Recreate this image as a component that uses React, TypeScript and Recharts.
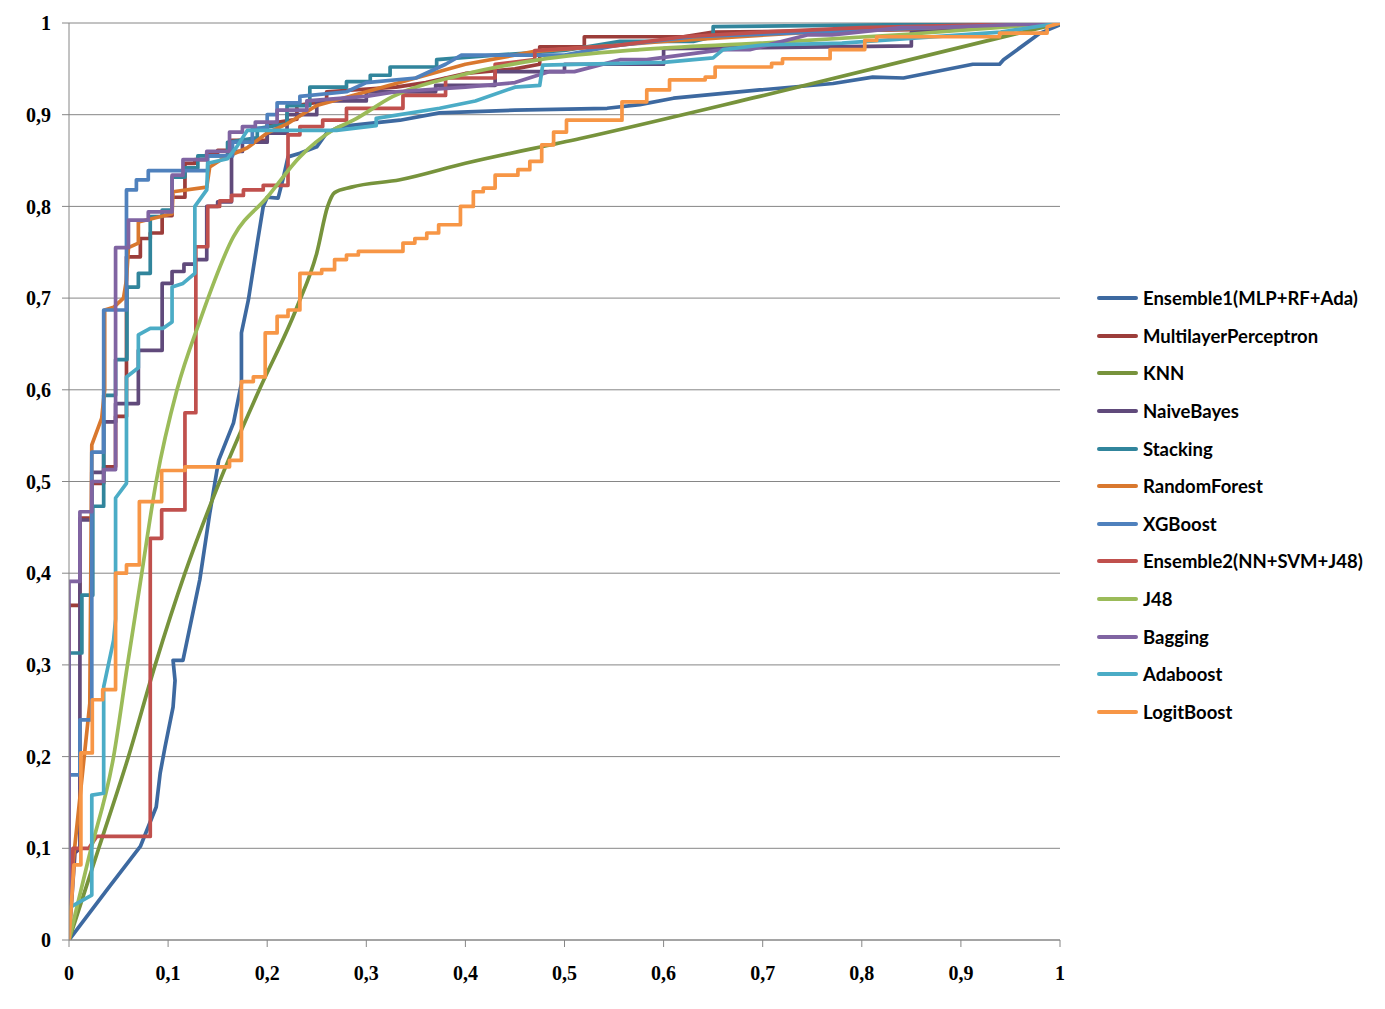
import { LineChart, Line, XAxis, YAxis, CartesianGrid } from "recharts";

// ROC curves, points are [false positive rate, true positive rate]
const ensemble1: [number, number][] = [
  [0, 0], [0.04, 0.057], [0.072, 0.102], [0.088, 0.145], [0.092, 0.182], [0.097, 0.211],
  [0.105, 0.254], [0.107, 0.283], [0.105, 0.305], [0.115, 0.305], [0.132, 0.393],
  [0.142, 0.465], [0.151, 0.523], [0.166, 0.564], [0.174, 0.607], [0.174, 0.662],
  [0.181, 0.698], [0.19, 0.76], [0.196, 0.8], [0.2, 0.81], [0.211, 0.809], [0.216, 0.83],
  [0.221, 0.854], [0.233, 0.858], [0.25, 0.865], [0.26, 0.88], [0.273, 0.887],
  [0.334, 0.894], [0.374, 0.902], [0.45, 0.905], [0.543, 0.907], [0.576, 0.911],
  [0.61, 0.918], [0.697, 0.927], [0.771, 0.934], [0.811, 0.941], [0.842, 0.94],
  [0.912, 0.955], [0.939, 0.955], [0.943, 0.96], [0.98, 0.989], [1, 0.998],
];

const multilayerPerceptron: [number, number][] = [
  [0, 0], [0, 0.365], [0.011, 0.365], [0.011, 0.46], [0.023, 0.46], [0.023, 0.498],
  [0.035, 0.498], [0.035, 0.516], [0.047, 0.516], [0.047, 0.571], [0.058, 0.571],
  [0.058, 0.745], [0.072, 0.745], [0.072, 0.765], [0.082, 0.765], [0.082, 0.771],
  [0.094, 0.771], [0.094, 0.79], [0.104, 0.79], [0.104, 0.81], [0.117, 0.81],
  [0.117, 0.847], [0.127, 0.847], [0.127, 0.851], [0.139, 0.851], [0.139, 0.858],
  [0.15, 0.858], [0.15, 0.861], [0.164, 0.861], [0.164, 0.872], [0.2, 0.872],
  [0.2, 0.89], [0.23, 0.895], [0.23, 0.91], [0.26, 0.915], [0.26, 0.925], [0.33, 0.93],
  [0.36, 0.935], [0.4, 0.945], [0.45, 0.95], [0.475, 0.955], [0.475, 0.974],
  [0.52, 0.974], [0.52, 0.985], [0.62, 0.985], [0.65, 0.99], [0.87, 0.993],
  [0.87, 1], [1, 1],
];

const knn: [number, number][] = [
  [0, 0], [0.03, 0.1], [0.06, 0.2], [0.087, 0.3], [0.117, 0.4], [0.152, 0.5],
  [0.192, 0.6], [0.23, 0.69], [0.25, 0.749], [0.261, 0.8], [0.268, 0.815],
  [0.285, 0.821], [0.334, 0.829], [0.4, 0.847], [0.516, 0.874], [0.697, 0.92], [1, 1],
];

const naiveBayes: [number, number][] = [
  [0, 0], [0.006, 0.095], [0.011, 0.1], [0.011, 0.458], [0.023, 0.458], [0.023, 0.51],
  [0.035, 0.51], [0.035, 0.565], [0.047, 0.565], [0.047, 0.585], [0.07, 0.585],
  [0.07, 0.643], [0.094, 0.643], [0.094, 0.716], [0.104, 0.716], [0.104, 0.729],
  [0.116, 0.729], [0.116, 0.737], [0.127, 0.737], [0.127, 0.742], [0.139, 0.742],
  [0.139, 0.8], [0.15, 0.8], [0.15, 0.805], [0.164, 0.805], [0.164, 0.86],
  [0.175, 0.86], [0.175, 0.87], [0.2, 0.87], [0.2, 0.88], [0.22, 0.88], [0.22, 0.9],
  [0.25, 0.9], [0.25, 0.915], [0.3, 0.915], [0.3, 0.925], [0.37, 0.925],
  [0.37, 0.932], [0.43, 0.932], [0.43, 0.947], [0.5, 0.947], [0.5, 0.955],
  [0.6, 0.955], [0.6, 0.972], [0.85, 0.975], [0.85, 0.99], [1, 1],
];

const stacking: [number, number][] = [
  [0, 0], [0, 0.313], [0.013, 0.313], [0.013, 0.376], [0.024, 0.376], [0.024, 0.473],
  [0.035, 0.473], [0.035, 0.594], [0.047, 0.594], [0.047, 0.633], [0.0585, 0.633],
  [0.0585, 0.712], [0.07, 0.712], [0.07, 0.727], [0.082, 0.727], [0.082, 0.789],
  [0.094, 0.789], [0.094, 0.796], [0.104, 0.796], [0.104, 0.832], [0.117, 0.832],
  [0.117, 0.842], [0.13, 0.842], [0.13, 0.855], [0.16, 0.855], [0.16, 0.87],
  [0.19, 0.875], [0.19, 0.885], [0.22, 0.89], [0.22, 0.91], [0.243, 0.91],
  [0.243, 0.93], [0.28, 0.93], [0.28, 0.936], [0.304, 0.936], [0.304, 0.943],
  [0.324, 0.943], [0.324, 0.952], [0.371, 0.952], [0.371, 0.96], [0.43, 0.965],
  [0.5, 0.97], [0.556, 0.98], [0.63, 0.98], [0.65, 0.985], [0.65, 0.996], [1, 1],
];

const randomForest: [number, number][] = [
  [0, 0], [0.003, 0.073], [0.021, 0.258], [0.023, 0.54], [0.033, 0.569], [0.036, 0.6],
  [0.036, 0.687], [0.045, 0.69], [0.055, 0.7], [0.058, 0.72], [0.06, 0.755],
  [0.07, 0.76], [0.07, 0.783], [0.104, 0.792], [0.105, 0.816], [0.139, 0.821],
  [0.142, 0.843], [0.155, 0.852], [0.18, 0.864], [0.2, 0.88], [0.22, 0.89],
  [0.25, 0.91], [0.3, 0.925], [0.35, 0.94], [0.4, 0.955], [0.47, 0.969],
  [0.556, 0.976], [0.6, 0.98], [0.75, 0.99], [1, 1],
];

const xgBoost: [number, number][] = [
  [0, 0], [0, 0.18], [0.011, 0.18], [0.011, 0.24], [0.023, 0.24], [0.023, 0.532],
  [0.035, 0.532], [0.035, 0.687], [0.058, 0.687], [0.058, 0.818], [0.068, 0.818],
  [0.068, 0.829], [0.08, 0.829], [0.08, 0.839], [0.14, 0.839], [0.14, 0.855],
  [0.165, 0.855], [0.165, 0.87], [0.185, 0.87], [0.185, 0.885], [0.2, 0.885],
  [0.2, 0.9], [0.21, 0.9], [0.21, 0.913], [0.233, 0.913], [0.233, 0.92],
  [0.28, 0.925], [0.3, 0.935], [0.35, 0.94], [0.38, 0.955], [0.396, 0.965],
  [0.5, 0.965], [0.55, 0.975], [0.63, 0.985], [0.75, 0.99], [0.87, 0.995], [1, 1],
];

const ensemble2: [number, number][] = [
  [0, 0], [0.004, 0.1], [0.02, 0.1], [0.028, 0.113], [0.082, 0.113], [0.082, 0.438],
  [0.0935, 0.438], [0.0935, 0.469], [0.117, 0.469], [0.117, 0.575], [0.128, 0.575],
  [0.128, 0.756], [0.14, 0.756], [0.14, 0.8], [0.152, 0.8], [0.152, 0.806],
  [0.164, 0.806], [0.164, 0.812], [0.176, 0.812], [0.176, 0.818], [0.196, 0.818],
  [0.196, 0.823], [0.221, 0.823], [0.221, 0.878], [0.233, 0.878], [0.233, 0.887],
  [0.256, 0.887], [0.256, 0.894], [0.28, 0.894], [0.28, 0.907], [0.337, 0.907],
  [0.337, 0.921], [0.38, 0.921], [0.38, 0.94], [0.43, 0.94], [0.43, 0.955],
  [0.47, 0.96], [0.47, 0.97], [0.55, 0.975], [0.62, 0.985], [0.7, 0.99],
  [0.8, 0.995], [1, 1],
];

const j48: [number, number][] = [
  [0, 0], [0.02, 0.09], [0.045, 0.2], [0.059, 0.3], [0.072, 0.39], [0.088, 0.5],
  [0.109, 0.6], [0.132, 0.675], [0.166, 0.767], [0.2, 0.81], [0.233, 0.854],
  [0.266, 0.883], [0.287, 0.894], [0.327, 0.92], [0.395, 0.943], [0.475, 0.96],
  [0.576, 0.971], [0.697, 0.978], [0.85, 0.988], [1, 1],
];

const bagging: [number, number][] = [
  [0, 0], [0, 0.391], [0.011, 0.391], [0.011, 0.467], [0.023, 0.467], [0.023, 0.5],
  [0.035, 0.5], [0.035, 0.513], [0.047, 0.513], [0.047, 0.755], [0.06, 0.755],
  [0.06, 0.785], [0.08, 0.785], [0.08, 0.794], [0.104, 0.794], [0.104, 0.834],
  [0.115, 0.834], [0.115, 0.851], [0.139, 0.851], [0.139, 0.86], [0.162, 0.86],
  [0.162, 0.881], [0.175, 0.881], [0.175, 0.887], [0.188, 0.887], [0.188, 0.892],
  [0.21, 0.892], [0.21, 0.905], [0.24, 0.905], [0.24, 0.915], [0.3, 0.92],
  [0.33, 0.925], [0.4, 0.93], [0.45, 0.935], [0.485, 0.947], [0.51, 0.947],
  [0.556, 0.96], [0.583, 0.96], [0.66, 0.971], [0.687, 0.971], [0.745, 0.987],
  [0.77, 0.987], [0.84, 0.995], [0.87, 0.995], [1, 1],
];

const adaboost: [number, number][] = [
  [0, 0], [0, 0.035], [0.023, 0.049], [0.023, 0.158], [0.035, 0.16], [0.035, 0.276],
  [0.045, 0.327], [0.047, 0.35], [0.047, 0.482], [0.058, 0.498], [0.058, 0.614],
  [0.07, 0.624], [0.07, 0.66], [0.082, 0.667], [0.095, 0.667], [0.104, 0.674],
  [0.104, 0.712], [0.115, 0.716], [0.127, 0.727], [0.127, 0.8], [0.139, 0.818],
  [0.14, 0.847], [0.16, 0.852], [0.17, 0.866], [0.18, 0.883], [0.27, 0.883],
  [0.31, 0.888], [0.31, 0.896], [0.374, 0.907], [0.41, 0.915], [0.45, 0.93],
  [0.475, 0.932], [0.478, 0.954], [0.6, 0.957], [0.65, 0.962], [0.66, 0.971],
  [0.7, 0.976], [0.78, 0.978], [0.94, 0.99], [1, 1],
];

const logitBoost: [number, number][] = [
  [0, 0], [0.005, 0.082], [0.012, 0.082], [0.012, 0.204], [0.0235, 0.204],
  [0.0235, 0.262], [0.034, 0.262], [0.034, 0.273], [0.047, 0.273], [0.047, 0.4],
  [0.058, 0.4], [0.058, 0.409], [0.071, 0.409], [0.071, 0.478], [0.0935, 0.478],
  [0.0935, 0.512], [0.117, 0.512], [0.117, 0.516], [0.162, 0.516], [0.162, 0.523],
  [0.174, 0.523], [0.174, 0.609], [0.186, 0.609], [0.186, 0.614], [0.198, 0.614],
  [0.198, 0.662], [0.21, 0.662], [0.21, 0.68], [0.221, 0.68], [0.221, 0.687],
  [0.233, 0.687], [0.233, 0.727], [0.255, 0.727], [0.255, 0.731], [0.268, 0.731],
  [0.268, 0.742], [0.28, 0.742], [0.28, 0.747], [0.292, 0.747], [0.292, 0.751],
  [0.337, 0.751], [0.337, 0.76], [0.349, 0.76], [0.349, 0.765], [0.361, 0.765],
  [0.361, 0.771], [0.373, 0.771], [0.373, 0.78], [0.395, 0.78], [0.395, 0.8],
  [0.408, 0.8], [0.408, 0.816], [0.418, 0.816], [0.418, 0.82], [0.43, 0.82],
  [0.43, 0.834], [0.453, 0.834], [0.453, 0.84], [0.465, 0.84], [0.465, 0.849],
  [0.477, 0.849], [0.477, 0.867], [0.489, 0.867], [0.489, 0.881], [0.502, 0.881],
  [0.502, 0.894], [0.558, 0.894], [0.558, 0.914], [0.583, 0.914], [0.583, 0.927],
  [0.606, 0.927], [0.606, 0.938], [0.642, 0.938], [0.642, 0.941], [0.652, 0.941],
  [0.652, 0.952], [0.709, 0.952], [0.709, 0.956], [0.72, 0.956], [0.72, 0.961],
  [0.768, 0.961], [0.768, 0.971], [0.803, 0.971], [0.803, 0.981], [0.815, 0.981],
  [0.815, 0.985], [0.939, 0.985], [0.939, 0.989], [0.987, 0.989], [0.987, 0.996],
  [1, 1],
];

const ticks = [0, 0.1, 0.2, 0.3, 0.4, 0.5, 0.6, 0.7, 0.8, 0.9, 1];

const series = [
  { name: "Ensemble1(MLP+RF+Ada)", color: "#3D69A0", points: ensemble1, curve: "linear" },
  { name: "MultilayerPerceptron", color: "#9C3D3A", points: multilayerPerceptron, curve: "linear" },
  { name: "KNN", color: "#77933C", points: knn, curve: "monotone" },
  { name: "NaiveBayes", color: "#604A7B", points: naiveBayes, curve: "linear" },
  { name: "Stacking", color: "#31859C", points: stacking, curve: "linear" },
  { name: "RandomForest", color: "#D9782E", points: randomForest, curve: "linear" },
  { name: "XGBoost", color: "#4F81BD", points: xgBoost, curve: "linear" },
  { name: "Ensemble2(NN+SVM+J48)", color: "#C0504D", points: ensemble2, curve: "linear" },
  { name: "J48", color: "#9BBB59", points: j48, curve: "monotone" },
  { name: "Bagging", color: "#8064A2", points: bagging, curve: "linear" },
  { name: "Adaboost", color: "#4BACC6", points: adaboost, curve: "linear" },
  { name: "LogitBoost", color: "#F79646", points: logitBoost, curve: "linear" },
];

const fmt = (v: number) => String(Math.round(v * 10) / 10).replace(".", ",");

const tickStyle = {
  fontSize: 20,
  fontWeight: "bold",
  fill: "#000",
  fontFamily: "'Liberation Serif', serif",
};

export default function App() {
  return (
    <div
      style={{
        position: "absolute",
        left: 0,
        top: 0,
        width: 1385,
        height: 1009,
        background: "#fff",
      }}
    >
      <LineChart
        width={1385}
        height={1009}
        margin={{ top: 23, right: 325, bottom: 29, left: 0 }}
      >
        <CartesianGrid horizontal vertical={false} stroke="#868686" />
        <XAxis
          type="number"
          dataKey="x"
          domain={[0, 1]}
          ticks={ticks}
          tickFormatter={fmt}
          height={40}
          tickSize={7}
          tickMargin={19}
          stroke="#868686"
          tick={tickStyle}
          allowDataOverflow
        />
        <YAxis
          type="number"
          domain={[0, 1]}
          ticks={ticks}
          tickFormatter={fmt}
          width={69}
          tickSize={7}
          tickMargin={11}
          stroke="#868686"
          tick={tickStyle}
          allowDataOverflow
        />
        {series.map((s) => (
          <Line
            key={s.name}
            name={s.name}
            data={s.points.map(([x, y]) => ({ x, y }))}
            dataKey="y"
            type={s.curve as "linear" | "monotone"}
            stroke={s.color}
            strokeWidth={3.7}
            strokeLinejoin="round"
            strokeLinecap="round"
            dot={false}
            activeDot={false}
            isAnimationActive={false}
          />
        ))}
      </LineChart>
      {series.map((s, i) => (
        <div
          key={s.name}
          style={{
            position: "absolute",
            left: 1097,
            top: 298 + i * 37.64 - 13,
            height: 26,
            display: "flex",
            alignItems: "center",
            whiteSpace: "nowrap",
          }}
        >
          <div
            style={{
              width: 41,
              height: 4,
              borderRadius: 2,
              background: s.color,
              marginRight: 5,
            }}
          />
          <span
            style={{
              fontFamily: "Lato, sans-serif",
              fontWeight: "bold",
              fontSize: 18.5,
              color: "#000",
            }}
          >
            {s.name}
          </span>
        </div>
      ))}
    </div>
  );
}
